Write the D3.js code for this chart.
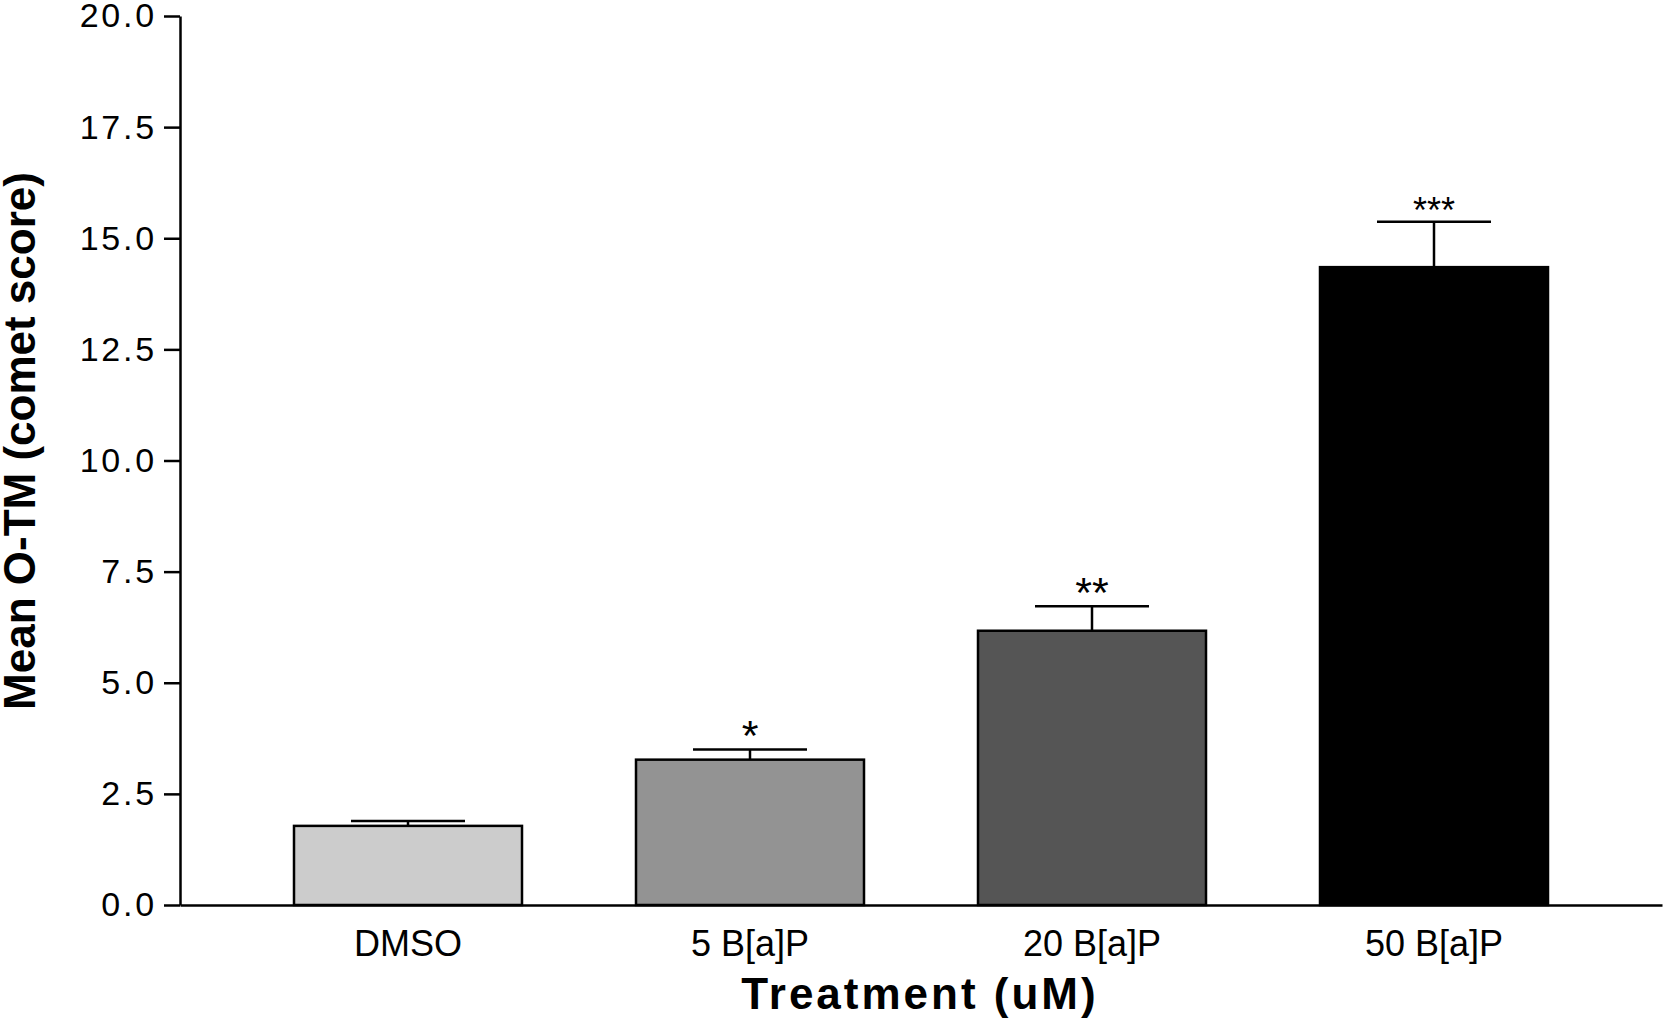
<!DOCTYPE html>
<html>
<head>
<meta charset="utf-8">
<script src="https://cdn.jsdelivr.net/npm/d3@7"></script>
<style>
  body { margin: 0; background: #fff; }
  text { font-family: "Liberation Sans", Arial, sans-serif; }
</style>
</head>
<body>
<div id="chart"></div>
<script>
// data
const categories = ["DMSO", "5 B[a]P", "20 B[a]P", "50 B[a]P"];
const means = [1.78, 3.27, 6.17, 14.35];
const sems = [0.11, 0.23, 0.55, 1.02];
const stars = ["", "*", "**", "***"];
const fills = ["#cccccc", "#939393", "#555555", "#000000"];
const yTicks = [0, 2.5, 5, 7.5, 10, 12.5, 15, 17.5, 20];

const width = 1665;
const height = 1022;
const marginTop = 16;
const marginRight = 3;
const marginBottom = 117;
const marginLeft = 180;

const x = d3.scaleBand()
    .domain(categories)
    .range([marginLeft, width - marginRight])
    .paddingInner(1 / 3)
    .paddingOuter(1 / 3);

const y = d3.scaleLinear()
    .domain([0, 20])
    .range([height - marginBottom, marginTop]);

const svg = d3.create("svg")
    .attr("width", width)
    .attr("height", height);

const rows = categories.map((c, i) => ({ c, m: means[i], e: sems[i], s: stars[i], f: fills[i] }));

// bars
svg.append("g")
  .selectAll("rect")
  .data(rows)
  .join("rect")
    .attr("x", d => x(d.c))
    .attr("y", d => y(d.m))
    .attr("width", x.bandwidth())
    .attr("height", d => y(0) - y(d.m))
    .attr("fill", d => d.f)
    .attr("stroke", "#000")
    .attr("stroke-width", 2.5);

// error bars (upper only)
const err = svg.append("g").attr("stroke", "#000").attr("stroke-width", 2.5);
err.selectAll("line.v")
  .data(rows)
  .join("line")
    .attr("class", "v")
    .attr("x1", d => x(d.c) + x.bandwidth() / 2)
    .attr("x2", d => x(d.c) + x.bandwidth() / 2)
    .attr("y1", d => y(d.m))
    .attr("y2", d => y(d.m + d.e));
err.selectAll("line.cap")
  .data(rows)
  .join("line")
    .attr("class", "cap")
    .attr("x1", d => x(d.c) + x.bandwidth() / 4)
    .attr("x2", d => x(d.c) + x.bandwidth() * 3 / 4)
    .attr("y1", d => y(d.m + d.e))
    .attr("y2", d => y(d.m + d.e));

// significance stars
svg.append("g")
  .selectAll("text")
  .data(rows)
  .join("text")
    .attr("x", d => x(d.c) + x.bandwidth() / 2)
    .attr("y", d => y(d.m + d.e) + 1)
    .attr("text-anchor", "middle")
    .attr("font-size", d => d.s.length > 2 ? 36 : 43)
    .text(d => d.s);

// x axis
const xAxis = svg.append("g")
    .attr("transform", `translate(0,${y(0)})`)
    .call(d3.axisBottom(x).tickSize(0).tickPadding(25));
xAxis.select(".domain").attr("stroke", "#000").attr("stroke-width", 2.5);
xAxis.selectAll("text")
    .attr("font-size", 36)
    .attr("fill", "#000")
    .attr("font-family", "Liberation Sans, Arial, sans-serif");

// y axis
const yAxis = svg.append("g")
    .attr("transform", `translate(${marginLeft},0)`)
    .call(d3.axisLeft(y).tickValues(yTicks).tickFormat(d3.format(".1f")).tickSize(16).tickSizeOuter(0).tickPadding(7));
yAxis.select(".domain").attr("stroke", "#000").attr("stroke-width", 2.5);
yAxis.selectAll(".tick line").attr("stroke", "#000").attr("stroke-width", 2.5);
yAxis.selectAll("text")
    .attr("font-size", 34)
    .attr("letter-spacing", 2.8)
    .attr("fill", "#000")
    .attr("font-family", "Liberation Sans, Arial, sans-serif");

// axis titles
svg.append("text")
    .attr("x", 920)
    .attr("y", 1009)
    .attr("text-anchor", "middle")
    .attr("font-size", 44)
    .attr("font-weight", "bold")
    .attr("letter-spacing", 3)
    .text("Treatment (uM)");

svg.append("text")
    .attr("transform", "translate(35,441) rotate(-90)")
    .attr("text-anchor", "middle")
    .attr("font-size", 44)
    .attr("font-weight", "bold")
    .text("Mean O-TM (comet score)");

document.getElementById("chart").append(svg.node());
</script>
</body>
</html>
